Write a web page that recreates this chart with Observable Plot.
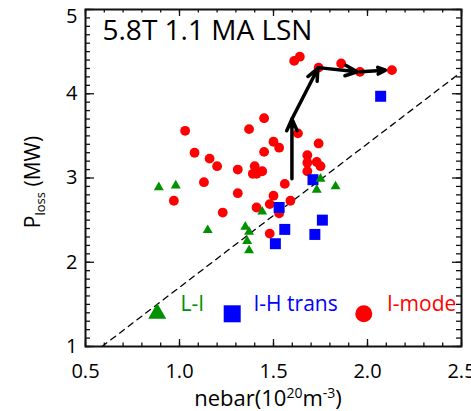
<!DOCTYPE html>
<html>
<head>
<meta charset="utf-8">
<script src="https://cdn.jsdelivr.net/npm/d3@7"></script>
<script src="https://cdn.jsdelivr.net/npm/@observablehq/plot@0.6"></script>
<style>
  html, body { margin: 0; padding: 0; background: #fff; }
  #chart { width: 471px; height: 411px; overflow: hidden; }
</style>
</head>
<body>
<div id="chart"></div>
<script>
// Line-averaged density (10^20 m^-3) and loss power (MW) per discharge phase
const imodeN = [1.03, 1.08, 1.16, 1.20, 1.31, 1.37, 1.45, 1.40, 1.39, 1.41,
                1.44, 1.45, 1.50, 1.53, 1.13, 0.97, 1.31, 1.23, 1.41, 1.48,
                1.63, 1.74, 1.68, 1.68, 1.73, 1.75, 1.68, 1.56, 1.50, 1.48,
                1.59, 1.53, 1.61, 1.64, 1.74, 1.86, 1.96, 2.13];
const imodeP = [3.56, 3.30, 3.23, 3.14, 3.10, 3.58, 3.71, 3.14, 3.05, 3.05,
                3.08, 3.31, 3.43, 3.36, 2.95, 2.73, 2.82, 2.59, 2.65, 2.34,
                3.53, 3.41, 3.27, 3.18, 3.19, 3.14, 3.08, 2.93, 2.79, 2.69,
                2.73, 2.58, 4.39, 4.44, 4.31, 4.36, 4.26, 4.28];

const liN = [0.89, 0.98, 1.15, 1.35, 1.37, 1.36, 1.37, 1.44, 1.75, 1.73, 1.83];
const liP = [2.89, 2.91, 2.38, 2.42, 2.36, 2.25, 2.14, 2.60, 2.99, 2.86, 2.90];

const ihN = [1.71, 1.53, 1.76, 1.56, 1.72, 1.51, 2.07];
const ihP = [2.98, 2.65, 2.50, 2.39, 2.33, 2.22, 3.97];

// Trajectory of one discharge (segments with arrowheads)
const trajN1 = [1.598, 1.598, 1.738, 1.963];
const trajP1 = [2.99, 3.70, 4.31, 4.26];
const trajN2 = [1.598, 1.736, 1.945, 2.096];
const trajP2 = [3.70, 4.30, 4.26, 4.28];

// Threshold scaling line
const thrN = [0.588, 2.5];
const thrP = [1.0, 4.26];

// Axis ticks
const xMajor = [0.5, 1.0, 1.5, 2.0, 2.5];
const yMajor = [1, 2, 3, 4];
const yTop = [5];
const xMinor = d3.range(5, 26).map(i => i / 10);
const yMinor = d3.range(10, 51).map(i => i / 10);

const title = "5.8T 1.1 MA LSN";
const legendLabels = ["L-I", "I-H trans", "I-mode"];

const W = 471, H = 411;
const mL = 85, mR = 10, mT = 9, mB = 65;
const innerW = W - mL - mR;
const innerH = H - mT - mB;

const red = "#ff0000", blue = "#0000ff", green = "#009100";
const ink = "#111";

const chart = Plot.plot({
  width: W,
  height: H,
  marginLeft: mL,
  marginRight: mR,
  marginTop: mT,
  marginBottom: mB,
  style: { fontFamily: "'Open Sans', sans-serif", background: "#fff", color: "#000", overflow: "visible" },
  x: { domain: [0.5, 2.5] },
  y: { domain: [1, 5] },
  marks: [
    Plot.line(thrN, { x: thrN, y: thrP, stroke: "#000", strokeWidth: 1.3, strokeDasharray: "6,5", clip: true }),
    Plot.dot(imodeN, { x: imodeN, y: imodeP, r: 4.9, fill: red, symbol: "circle" }),
    Plot.dot(ihN, { x: ihN, y: ihP, r: 6.2, fill: blue, symbol: "square" }),
    Plot.dot(liN, { x: liN, y: liP, r: 3.7, fill: green, symbol: "triangle" }),
    Plot.arrow(trajN1, {
      x1: trajN1, y1: trajP1, x2: trajN2, y2: trajP2,
      stroke: "#000", strokeWidth: 3.5, headLength: 5.5, headAngle: 48
    }),

    // inward ticks on all four sides
    Plot.ruleX(xMajor, { insetTop: innerH - 7, stroke: ink, strokeWidth: 1.3 }),
    Plot.ruleX(xMajor, { insetBottom: innerH - 7, stroke: ink, strokeWidth: 1.3 }),
    Plot.ruleX(xMinor, { insetTop: innerH - 3.5, stroke: ink, strokeWidth: 1.3 }),
    Plot.ruleX(xMinor, { insetBottom: innerH - 3.5, stroke: ink, strokeWidth: 1.3 }),
    Plot.ruleY(yMajor.concat(yTop), { insetRight: innerW - 9, stroke: ink, strokeWidth: 1.3 }),
    Plot.ruleY(yMajor.concat(yTop), { insetLeft: innerW - 9, stroke: ink, strokeWidth: 1.3 }),
    Plot.ruleY(yMinor, { insetRight: innerW - 5, stroke: ink, strokeWidth: 1.3 }),
    Plot.ruleY(yMinor, { insetLeft: innerW - 5, stroke: ink, strokeWidth: 1.3 }),
    Plot.frame({ stroke: ink, strokeWidth: 2 }),

    Plot.axisX({ ticks: xMajor, tickSize: 0, tickPadding: 17, fontSize: 20, tickFormat: d => d.toFixed(1), label: null }),
    Plot.axisY({ ticks: yMajor, tickSize: 0, tickPadding: 8, fontSize: 20, tickFormat: d => String(d), label: null }),
    // the top label sits just below its tick so it stays inside the page
    Plot.axisY({ ticks: yTop, tickSize: 0, tickPadding: 8, fontSize: 20, lineAnchor: "top", dy: -1, tickFormat: d => String(d), label: null }),

    Plot.text([title], { frameAnchor: "top-left", dx: 17, dy: 11, fontSize: 28, textAnchor: "start", lineAnchor: "top", fill: "#000" }),

    // legend
    Plot.dot([0], { frameAnchor: "bottom-left", dx: 71.7, dy: -33, symbol: "triangle", r: 6.7, fill: green }),
    Plot.dot([0], { frameAnchor: "bottom-left", dx: 146.7, dy: -32.7, symbol: "square", r: 9.6, fill: blue }),
    Plot.dot([0], { frameAnchor: "bottom-left", dx: 278.3, dy: -32.7, symbol: "circle", r: 8.5, fill: red }),
    Plot.text([legendLabels[0]], { frameAnchor: "bottom-left", dx: 95, dy: -36, fontSize: 21, textAnchor: "start", fill: green }),
    Plot.text([legendLabels[1]], { frameAnchor: "bottom-left", dx: 168, dy: -36, fontSize: 21, textAnchor: "start", fill: blue }),
    Plot.text([legendLabels[2]], { frameAnchor: "bottom-left", dx: 301.5, dy: -36, fontSize: 21, textAnchor: "start", fill: red })
  ]
});

// Axis titles with sub/superscripts
const svg = d3.select(chart);
const xl = svg.append("text")
  .attr("x", 268).attr("y", 406)
  .attr("text-anchor", "middle")
  .attr("font-size", 22)
  .attr("fill", "#000");
xl.append("tspan").text("nebar(10");
xl.append("tspan").attr("font-size", 14).attr("dy", -8).text("20");
xl.append("tspan").attr("dy", 8).text("m");
xl.append("tspan").attr("font-size", 14).attr("dy", -8).text("-3");
xl.append("tspan").attr("dy", 8).text(")");

const yl = svg.append("text")
  .attr("transform", "translate(40,182) rotate(-90)")
  .attr("text-anchor", "middle")
  .attr("font-size", 21)
  .attr("fill", "#000");
yl.append("tspan").text("P");
yl.append("tspan").attr("font-size", 13).attr("dy", 5).text("loss");
yl.append("tspan").attr("dy", -5).text(" (MW)");

document.getElementById("chart").appendChild(chart);
</script>
</body>
</html>
